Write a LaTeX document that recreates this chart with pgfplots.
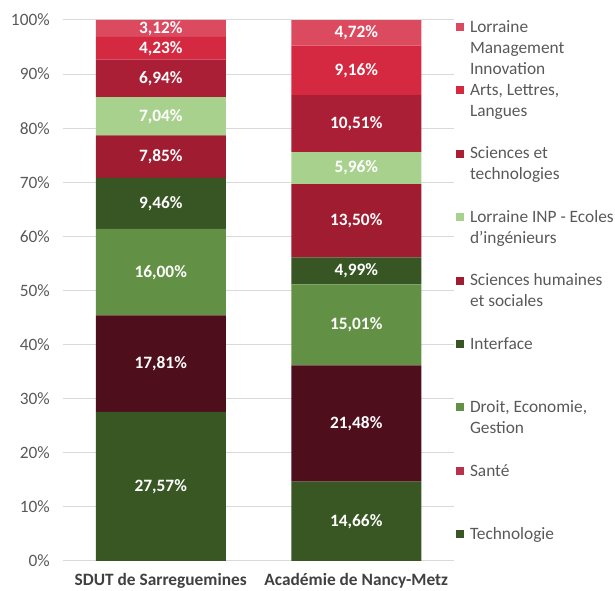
\documentclass[border=0pt]{standalone}
\usepackage{fontspec}
\setmainfont{Carlito}
\usepackage{pgfplots}
\usepackage{pgfplotstable}
\pgfplotsset{compat=1.18}

\definecolor{ctech}{HTML}{385723}
\definecolor{csante}{HTML}{4E0E1B}
\definecolor{csanteleg}{HTML}{B8324C}
\definecolor{cdroit}{HTML}{629145}
\definecolor{cinterface}{HTML}{375623}
\definecolor{cshs}{HTML}{9F1C31}
\definecolor{cinp}{HTML}{A9D18E}
\definecolor{cscitech}{HTML}{AA1F36}
\definecolor{carts}{HTML}{D52941}
\definecolor{clmi}{HTML}{DC4A60}
\definecolor{gridgray}{HTML}{D9D9D9}
\definecolor{ticktext}{HTML}{595959}
\definecolor{cattext}{HTML}{404040}

% parts per field, bottom to top
\pgfplotstableread{
x tech sante droit interface shs inp scitech arts lmi
0 27.57 17.81 16.00 9.46 7.85 7.04 6.94 4.23 3.12
1 14.66 21.48 15.01 4.99 13.50 5.96 10.51 9.16 4.72
}\parts

% label positions (middle of each segment)
\pgfplotstableread{
x y lab
0 13.785 27,57
0 36.475 17,81
0 53.38 16,00
0 66.11 9,46
0 74.765 7,85
0 82.21 7,04
0 89.20 6,94
0 94.785 4,23
0 98.46 3,12
1 7.33 14,66
1 25.40 21,48
1 43.645 15,01
1 53.645 4,99
1 62.89 13,50
1 72.62 5,96
1 80.855 10,51
1 90.69 9,16
1 97.63 4,72
}\labels

\begin{document}
\begin{tikzpicture}[font=\fontsize{13}{15.75}\selectfont]
\path[use as bounding box] (0,0) rectangle (461.25pt,442.5pt);
\begin{axis}[
  at={(47.25pt,21.75pt)}, anchor=south west,
  scale only axis, width=293.25pt, height=405.75pt,
  ybar stacked, bar width=97.5pt,
  xmin=-0.5, xmax=1.5, ymin=0, ymax=100,
  xtick={0,1},
  xticklabels={SDUT de Sarreguemines, Académie de Nancy-Metz},
  ytick={0,10,...,100},
  yticklabel={\pgfmathprintnumber{\tick}\%},
  /pgf/number format/assume math mode=true,
  ymajorgrids, grid style={gridgray, line width=0.75pt},
  axis line style={draw=none},
  major tick length=0pt,
  yticklabel style={font=\fontsize{13}{15.75}\selectfont, text=ticktext,
    anchor=east, inner sep=0pt, xshift=-9.75pt},
  xticklabel style={font=\bfseries\fontsize{13}{15.75}\selectfont, text=cattext,
    anchor=north, inner sep=0pt, yshift=-9pt},
  legend image code/.code={\fill[#1] (0pt,1pt) rectangle (6pt,7pt);},
  reverse legend,
  legend style={
    at={(1,1)}, anchor=north west, xshift=1.5pt, yshift=1pt,
    draw=none, fill=none, inner sep=0pt, outer sep=0pt,
    row sep=0pt, column sep=4.5pt,
    font=\fontsize{13}{15.75}\selectfont, text=ticktext,
    nodes={inner sep=0pt, text width=140pt, align=flush left,
      text height=10pt, text depth=37.6pt},
    cells={anchor=base west},
  },
]
\addplot[fill=ctech, draw=none] table[x=x, y=tech]{\parts};
\addlegendentry{Technologie}
\addplot[fill=csante, draw=none, legend image post style={fill=csanteleg}] table[x=x, y=sante]{\parts};
\addlegendentry{Santé}
\addplot[fill=cdroit, draw=none] table[x=x, y=droit]{\parts};
\addlegendentry{Droit, Economie,\\Gestion}
\addplot[fill=cinterface, draw=none] table[x=x, y=interface]{\parts};
\addlegendentry{Interface}
\addplot[fill=cshs, draw=none] table[x=x, y=shs]{\parts};
\addlegendentry{Sciences humaines\\et sociales}
\addplot[fill=cinp, draw=none] table[x=x, y=inp]{\parts};
\addlegendentry{Lorraine INP - Ecoles\\d'ingénieurs}
\addplot[fill=cscitech, draw=none] table[x=x, y=scitech]{\parts};
\addlegendentry{Sciences et\\technologies}
\addplot[fill=carts, draw=none] table[x=x, y=arts]{\parts};
\addlegendentry{Arts, Lettres,\\Langues}
\addplot[fill=clmi, draw=none] table[x=x, y=lmi]{\parts};
\addlegendentry{Lorraine\\Management\\Innovation}
\end{axis}

\begin{axis}[
  at={(47.25pt,21.75pt)}, anchor=south west,
  scale only axis, width=293.25pt, height=405.75pt,
  xmin=-0.5, xmax=1.5, ymin=0, ymax=100, hide axis,
  point meta=explicit symbolic,
  nodes near coords={\pgfplotspointmeta\%},
  nodes near coords align=center,
  every node near coord/.append style={font=\bfseries\fontsize{13}{15.75}\selectfont,
    text=white, inner sep=0pt, anchor=center},
]
\addplot[draw=none, mark=none] table[x=x, y=y, meta=lab]{\labels};
\end{axis}
\end{tikzpicture}
\end{document}
